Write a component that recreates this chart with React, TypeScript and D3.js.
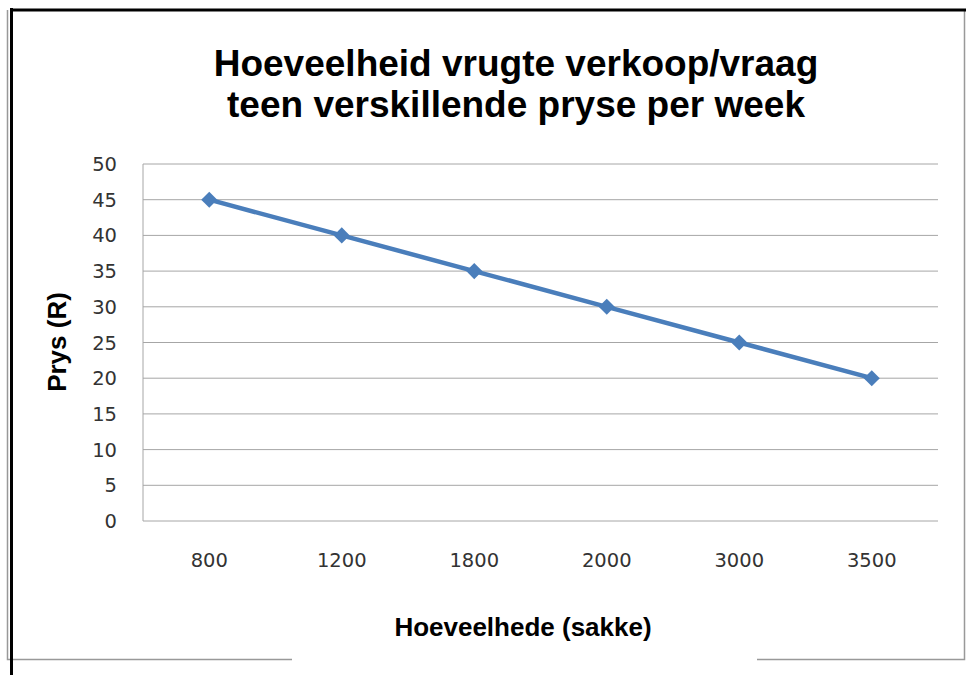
import * as React from "react"
import * as d3 from "d3"

const quantities = ["800", "1200", "1800", "2000", "3000", "3500"]
const prices = [45, 40, 35, 30, 25, 20]
const yTicks = [0, 5, 10, 15, 20, 25, 30, 35, 40, 45, 50]
const titleLines = ["Hoeveelheid vrugte verkoop/vraag", "teen verskillende pryse per week"]

export default function App() {
    const [w, h] = [969, 675]
    const m = { top: 164, bottom: 154, left: 143, right: 31 }
    const [bounds_w, bounds_h] = [w - m.left - m.right, h - m.top - m.bottom]

    const xScale = d3.scaleBand().domain(quantities).range([0, bounds_w])
    const yScale = d3.scaleLinear().domain([0, 50]).range([bounds_h, 0])

    const data = quantities.map((q, i) => ({ q, p: prices[i] }))
    const line = d3
        .line<{ q: string; p: number }>()
        .x(d => (xScale(d.q) ?? 0) + xScale.bandwidth() / 2)
        .y(d => yScale(d.p))

    const diamond = d3.symbol().type(d3.symbolDiamond2).size(165)()

    const grid = yTicks.map((t, i) => (
        <g key={i}>
            <line x1={0} x2={bounds_w} y1={yScale(t)} y2={yScale(t)} stroke="#a6a6a6" strokeWidth={1} />
            <text x={-26} y={yScale(t)} dy="0.36em" fontSize={19.5} textAnchor="end" fill="#333">
                {t}
            </text>
        </g>
    ))

    const xLabels = quantities.map((q, i) => (
        <text
            key={i}
            x={(xScale(q) ?? 0) + xScale.bandwidth() / 2}
            y={bounds_h + 46}
            fontSize={19.5}
            textAnchor="middle"
            fill="#333"
        >
            {q}
        </text>
    ))

    return (
        <svg
            width={w}
            height={h}
            style={{ position: "absolute", left: 0, top: 0, fontFamily: "'DejaVu Sans', sans-serif" }}
        >
            <rect x={0} y={0} width={w} height={h} fill="white" />
            {/* page frame */}
            <path d="M7.5,10 V659.5 H292" fill="none" stroke="#999" strokeWidth={1.5} />
            <path d="M757,659.5 H964.5 V10" fill="none" stroke="#999" strokeWidth={1.5} />
            <line x1={11.5} x2={11.5} y1={8} y2={675} stroke="black" strokeWidth={3} />
            <line x1={10} x2={966} y1={10} y2={10} stroke="black" strokeWidth={3} />

            <g fontFamily="'Liberation Sans', Arial, sans-serif" fontWeight="bold" fill="black">
                {titleLines.map((t, i) => (
                    <text key={i} x={516} y={76 + i * 41} fontSize={37} textAnchor="middle">
                        {t}
                    </text>
                ))}
                <text x={523} y={636} fontSize={26} textAnchor="middle">
                    Hoeveelhede (sakke)
                </text>
                <text transform="translate(66,342) rotate(-90)" fontSize={26} textAnchor="middle">
                    Prys (R)
                </text>
            </g>

            <g transform={`translate(${[m.left, m.top].join(",")})`}>
                {grid}
                <line x1={0} x2={0} y1={0} y2={bounds_h} stroke="#a6a6a6" strokeWidth={1} />
                {xLabels}
                <path d={line(data) ?? ""} fill="none" stroke="#4a7ebb" strokeWidth={4.5} strokeLinejoin="round" />
                {data.map((d, i) => (
                    <path
                        key={i}
                        d={diamond ?? ""}
                        transform={`translate(${(xScale(d.q) ?? 0) + xScale.bandwidth() / 2},${yScale(d.p)})`}
                        fill="#4a7ebb"
                    />
                ))}
            </g>
        </svg>
    )
}
